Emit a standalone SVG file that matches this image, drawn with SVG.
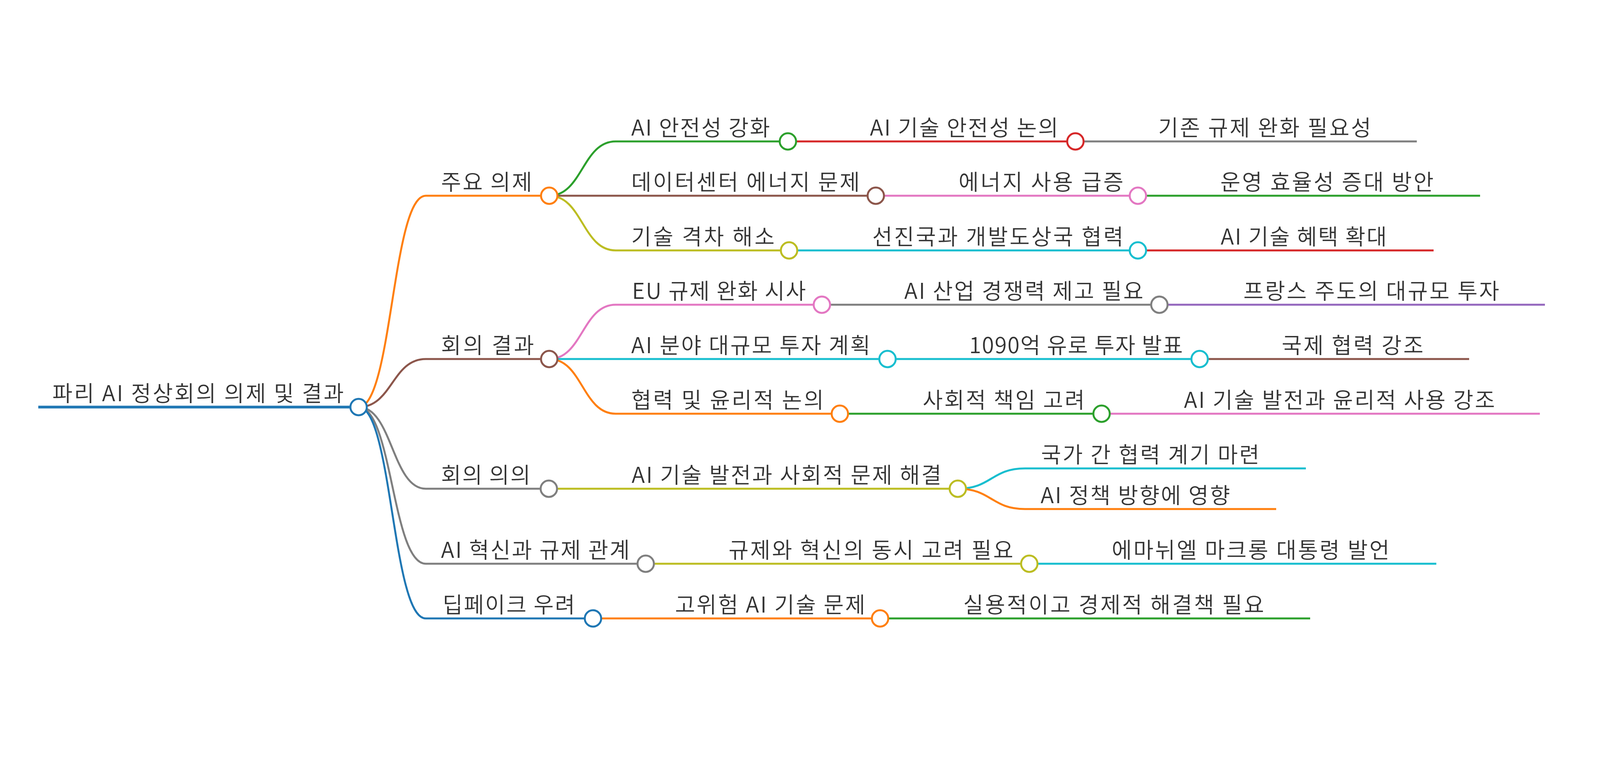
<svg xmlns="http://www.w3.org/2000/svg" width="4147" height="1971" viewBox="0 0 4147 1971">
<style>
.t{font-family:"Noto Sans CJK KR","Noto Sans",sans-serif;font-size:56px;font-weight:350;fill:#333333}
.ln{fill:none;stroke-width:5;stroke-linecap:butt}
.lk{fill:none;stroke-width:5}
.c{fill:#ffffff;stroke-width:5}
.blue{stroke:#1f77b4}.orange{stroke:#ff7f0e}.green{stroke:#2ca02c}.red{stroke:#d62728}.purple{stroke:#9467bd}
.brown{stroke:#8c564b}.pink{stroke:#e377c2}.gray{stroke:#7f7f7f}.olive{stroke:#bcbd22}.cyan{stroke:#17becf}
</style>
<rect width="4147" height="1971" fill="#ffffff"/>
<g id="connectors">
<path class="lk orange" d="M918,1042 C1004,1042 1004,501 1090,501"/>
<path class="lk brown" d="M918,1042 C1004,1042 1004,919 1090,919"/>
<path class="lk gray" d="M918,1042 C1004,1042 1004,1251 1090,1251"/>
<path class="lk gray" d="M918,1042 C1004,1042 1004,1443 1090,1443"/>
<path class="lk blue" d="M918,1042 C1004,1042 1004,1583 1090,1583"/>
<path class="lk green" d="M1406,501 C1491,501 1491,362 1576,362"/>
<path class="lk brown" d="M1406,501 H1576"/>
<path class="lk olive" d="M1406,501 C1491,501 1491,641 1576,641"/>
<path class="lk red" d="M2017,362 H2187"/>
<path class="lk gray" d="M2753,362 H2924"/>
<path class="lk pink" d="M2242,501 H2415"/>
<path class="lk green" d="M2913,501 H3085"/>
<path class="lk cyan" d="M2020,641 H2194"/>
<path class="lk red" d="M2913,641 H3085"/>
<path class="lk pink" d="M1406,919 C1491,919 1491,780 1576,780"/>
<path class="lk cyan" d="M1406,919 H1576"/>
<path class="lk orange" d="M1406,919 C1491,919 1491,1059 1576,1059"/>
<path class="lk gray" d="M2104,780 H2277"/>
<path class="lk purple" d="M2968,780 H3142"/>
<path class="lk cyan" d="M2272,919 H2442"/>
<path class="lk brown" d="M3071,919 H3243"/>
<path class="lk green" d="M2150,1059 H2321"/>
<path class="lk pink" d="M2820,1059 H2991"/>
<path class="lk olive" d="M1405,1251 H1576"/>
<path class="lk cyan" d="M2452,1251 C2538,1251 2538,1199 2624,1199"/>
<path class="lk orange" d="M2452,1251 C2538,1251 2538,1303 2624,1303"/>
<path class="lk olive" d="M1653,1443 H1827"/>
<path class="lk cyan" d="M2635,1443 H2806"/>
<path class="lk orange" d="M1518,1583 H1689"/>
<path class="lk green" d="M2253,1583 H2426"/>
</g>
<g id="n0"><path class="ln blue" style="stroke-width:7" d="M98,1042 H918"/><circle class="c blue" cx="918" cy="1042" r="21"/><text class="t" x="134" y="1027" textLength="746" lengthAdjust="spacing">파리 AI 정상회의 의제 및 결과</text></g>
<g id="n1"><path class="ln orange" d="M1090,501 H1406"/><circle class="c orange" cx="1406" cy="501" r="21"/><text class="t" x="1129" y="486" textLength="233" lengthAdjust="spacing">주요 의제</text></g>
<g id="n1a"><path class="ln green" d="M1576,362 H2017"/><circle class="c green" cx="2017" cy="362" r="21"/><text class="t" x="1616" y="347" textLength="355" lengthAdjust="spacing">AI 안전성 강화</text></g>
<g id="n1a1"><path class="ln red" d="M2187,362 H2753"/><circle class="c red" cx="2753" cy="362" r="21"/><text class="t" x="2227" y="347" textLength="482" lengthAdjust="spacing">AI 기술 안전성 논의</text></g>
<g id="n1a1a"><path class="ln gray" d="M2924,362 H3627"/><text class="t" x="2965" y="347" textLength="545" lengthAdjust="spacing">기존 규제 완화 필요성</text></g>
<g id="n1b"><path class="ln brown" d="M1576,501 H2242"/><circle class="c brown" cx="2242" cy="501" r="21"/><text class="t" x="1616" y="486" textLength="585" lengthAdjust="spacing">데이터센터 에너지 문제</text></g>
<g id="n1b1"><path class="ln pink" d="M2415,501 H2913"/><circle class="c pink" cx="2913" cy="501" r="21"/><text class="t" x="2454" y="486" textLength="422" lengthAdjust="spacing">에너지 사용 급증</text></g>
<g id="n1b1a"><path class="ln green" d="M3085,501 H3789"/><text class="t" x="3124" y="486" textLength="546" lengthAdjust="spacing">운영 효율성 증대 방안</text></g>
<g id="n1c"><path class="ln olive" d="M1576,641 H2020"/><circle class="c olive" cx="2020" cy="641" r="21"/><text class="t" x="1616" y="626" textLength="367" lengthAdjust="spacing">기술 격차 해소</text></g>
<g id="n1c1"><path class="ln cyan" d="M2194,641 H2913"/><circle class="c cyan" cx="2913" cy="641" r="21"/><text class="t" x="2233" y="626" textLength="643" lengthAdjust="spacing">선진국과 개발도상국 협력</text></g>
<g id="n1c1a"><path class="ln red" d="M3085,641 H3670"/><text class="t" x="3125" y="626" textLength="425" lengthAdjust="spacing">AI 기술 혜택 확대</text></g>
<g id="n2"><path class="ln brown" d="M1090,919 H1406"/><circle class="c brown" cx="1406" cy="919" r="21"/><text class="t" x="1129" y="904" textLength="238" lengthAdjust="spacing">회의 결과</text></g>
<g id="n2a"><path class="ln pink" d="M1576,780 H2104"/><circle class="c pink" cx="2104" cy="780" r="21"/><text class="t" x="1618" y="765" textLength="445" lengthAdjust="spacing">EU 규제 완화 시사</text></g>
<g id="n2a1"><path class="ln gray" d="M2277,780 H2968"/><circle class="c gray" cx="2968" cy="780" r="21"/><text class="t" x="2315" y="765" textLength="612" lengthAdjust="spacing">AI 산업 경쟁력 제고 필요</text></g>
<g id="n2a1a"><path class="ln purple" d="M3142,780 H3955"/><text class="t" x="3183" y="765" textLength="655" lengthAdjust="spacing">프랑스 주도의 대규모 투자</text></g>
<g id="n2b"><path class="ln cyan" d="M1576,919 H2272"/><circle class="c cyan" cx="2272" cy="919" r="21"/><text class="t" x="1616" y="904" textLength="612" lengthAdjust="spacing">AI 분야 대규모 투자 계획</text></g>
<g id="n2b1"><path class="ln cyan" d="M2442,919 H3071"/><circle class="c cyan" cx="3071" cy="919" r="21"/><text class="t" x="2481" y="904" textLength="547" lengthAdjust="spacing">1090억 유로 투자 발표</text></g>
<g id="n2b1a"><path class="ln brown" d="M3243,919 H3761"/><text class="t" x="3281" y="904" textLength="363" lengthAdjust="spacing">국제 협력 강조</text></g>
<g id="n2c"><path class="ln orange" d="M1576,1059 H2150"/><circle class="c orange" cx="2150" cy="1059" r="21"/><text class="t" x="1616" y="1044" textLength="493" lengthAdjust="spacing">협력 및 윤리적 논의</text></g>
<g id="n2c1"><path class="ln green" d="M2321,1059 H2820"/><circle class="c green" cx="2820" cy="1059" r="21"/><text class="t" x="2362" y="1044" textLength="415" lengthAdjust="spacing">사회적 책임 고려</text></g>
<g id="n2c1a"><path class="ln pink" d="M2991,1059 H3942"/><text class="t" x="3031" y="1044" textLength="796" lengthAdjust="spacing">AI 기술 발전과 윤리적 사용 강조</text></g>
<g id="n3"><path class="ln gray" d="M1090,1251 H1405"/><circle class="c gray" cx="1405" cy="1251" r="21"/><text class="t" x="1129" y="1236" textLength="229" lengthAdjust="spacing">회의 의의</text></g>
<g id="n3a"><path class="ln olive" d="M1576,1251 H2452"/><circle class="c olive" cx="2452" cy="1251" r="21"/><text class="t" x="1617" y="1236" textLength="793" lengthAdjust="spacing">AI 기술 발전과 사회적 문제 해결</text></g>
<g id="n3a1"><path class="ln cyan" d="M2624,1199 H3343"/><text class="t" x="2665" y="1184" textLength="559" lengthAdjust="spacing">국가 간 협력 계기 마련</text></g>
<g id="n3a2"><path class="ln orange" d="M2624,1303 H3267"/><text class="t" x="2664" y="1288" textLength="485" lengthAdjust="spacing">AI 정책 방향에 영향</text></g>
<g id="n4"><path class="ln gray" d="M1090,1443 H1653"/><circle class="c gray" cx="1653" cy="1443" r="21"/><text class="t" x="1129" y="1428" textLength="483" lengthAdjust="spacing">AI 혁신과 규제 관계</text></g>
<g id="n4a"><path class="ln olive" d="M1827,1443 H2635"/><circle class="c olive" cx="2635" cy="1443" r="21"/><text class="t" x="1865" y="1428" textLength="729" lengthAdjust="spacing">규제와 혁신의 동시 고려 필요</text></g>
<g id="n4a1"><path class="ln cyan" d="M2806,1443 H3677"/><text class="t" x="2846" y="1428" textLength="711" lengthAdjust="spacing">에마뉘엘 마크롱 대통령 발언</text></g>
<g id="n5"><path class="ln blue" d="M1090,1583 H1518"/><circle class="c blue" cx="1518" cy="1583" r="21"/><text class="t" x="1133" y="1568" textLength="339" lengthAdjust="spacing">딥페이크 우려</text></g>
<g id="n5a"><path class="ln orange" d="M1689,1583 H2253"/><circle class="c orange" cx="2253" cy="1583" r="21"/><text class="t" x="1728" y="1568" textLength="487" lengthAdjust="spacing">고위험 AI 기술 문제</text></g>
<g id="n5a1"><path class="ln green" d="M2426,1583 H3354"/><text class="t" x="2466" y="1568" textLength="770" lengthAdjust="spacing">실용적이고 경제적 해결책 필요</text></g>
</svg>
